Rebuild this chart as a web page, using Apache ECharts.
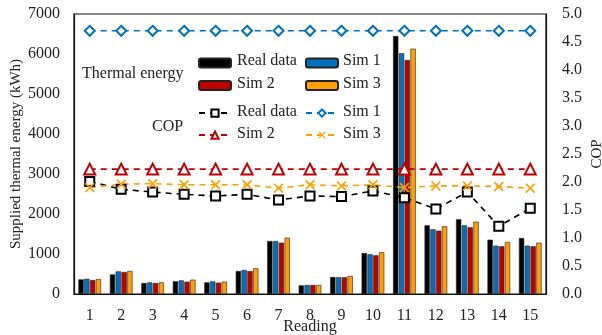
<!DOCTYPE html>
<html>
<head>
<meta charset="utf-8">
<script src="https://cdn.jsdelivr.net/npm/echarts@6/dist/echarts.min.js"></script>
<style>html,body{margin:0;padding:0;background:#fff;}#c{width:602px;height:335px;}</style>
</head>
<body>
<div id="c"></div>
<script>
const categories = ['1','2','3','4','5','6','7','8','9','10','11','12','13','14','15'];
const realEnergy = [365, 490, 275, 318, 292, 575, 1325, 215, 425, 1025, 6450, 1717, 1867, 1358, 1400];
const sim1Energy = [380, 565, 290, 340, 315, 600, 1325, 225, 418, 992, 6017, 1617, 1717, 1208, 1208];
const sim2Energy = [350, 550, 275, 308, 283, 575, 1283, 225, 418, 967, 5850, 1583, 1667, 1192, 1192];
const sim3Energy = [372, 575, 290, 358, 308, 642, 1408, 225, 450, 1042, 6133, 1692, 1808, 1300, 1283];
const realCop = [2.01, 1.87, 1.82, 1.78, 1.75, 1.78, 1.68, 1.75, 1.74, 1.84, 1.72, 1.52, 1.82, 1.21, 1.53];
const sim1Cop = [4.7, 4.7, 4.7, 4.7, 4.7, 4.7, 4.7, 4.7, 4.7, 4.7, 4.7, 4.7, 4.7, 4.7, 4.7];
const sim2Cop = [2.23, 2.23, 2.23, 2.23, 2.23, 2.23, 2.23, 2.23, 2.23, 2.23, 2.23, 2.23, 2.23, 2.23, 2.23];
const sim3Cop = [1.90, 1.96, 1.97, 1.95, 1.95, 1.95, 1.89, 1.95, 1.93, 1.95, 1.90, 1.93, 1.93, 1.92, 1.89];
const energyTicks = {min: 0, max: 7000, interval: 1000};
const copTicks = {min: 0, max: 5, interval: 0.5};

const FONT = 'Liberation Serif';
const TXT = '#222';
const C_BLACK = '#000000', C_BLUE = '#0070C0', C_RED = '#C00000', C_ORANGE = '#FFA000';
const X_PATH = 'path://M0,1.2L1.2,0L5,3.8L8.8,0L10,1.2L6.2,5L10,8.8L8.8,10L5,6.2L1.2,10L0,8.8L3.8,5Z';

function barSeries(name, data, color) {
  return {
    name: name, type: 'bar', data: data, yAxisIndex: 0,
    barGap: '10%', barCategoryGap: '28%',
    itemStyle: {color: color, borderColor: '#222', borderWidth: 0.6},
    z: 1
  };
}
function lineSeries(name, data, color, symbol, size, filled) {
  return {
    name: name, type: 'line', data: data, yAxisIndex: 1,
    symbol: symbol, symbolSize: size, showSymbol: true,
    lineStyle: {color: color, width: 1.6, type: [6, 5]},
    itemStyle: filled ? {color: color, borderWidth: 0} : {color: color, borderColor: color, borderWidth: 1.6},
    z: 5
  };
}
function legendAt(left, top, name) {
  return {
    left: left, top: top, padding: 0, orient: 'horizontal',
    itemWidth: 32, itemHeight: 9, selectedMode: false,
    data: [{name: name}],
    formatter: () => '',
    textStyle: {fontFamily: FONT, fontSize: 16, color: TXT}
  };
}
function label(left, cy, text) {
  return {type: 'text', left: left, top: cy - 9,
    style: {text: text, fontFamily: FONT, fontSize: 16, fill: TXT}};
}

const chart = echarts.init(document.getElementById('c'), null, {renderer: 'canvas'});
chart.setOption({
  animation: false,
  backgroundColor: '#fff',
  textStyle: {fontFamily: FONT},
  grid: {left: 74, right: 56, top: 14, bottom: 41, outerBoundsMode: 'none', containLabel: false,
    show: true, borderColor: '#111', borderWidth: 1.2},
  legend: [
    legendAt(198, 57.5, 'Real data'),
    legendAt(305, 57.5, 'Sim 1'),
    legendAt(198, 80, 'Sim 2'),
    legendAt(305, 80, 'Sim 3'),
    legendAt(198, 108.5, 'COP Real data'),
    legendAt(305, 108.5, 'COP Sim 1'),
    legendAt(198, 130.5, 'COP Sim 2'),
    legendAt(305, 130.5, 'COP Sim 3')
  ],
  graphic: [
    label(82, 75, 'Thermal energy'),
    label(152, 128, 'COP'),
    label(237, 62, 'Real data'),
    label(343, 62, 'Sim 1'),
    label(237, 84.5, 'Sim 2'),
    label(343, 84.5, 'Sim 3'),
    label(237, 113, 'Real data'),
    label(343, 113, 'Sim 1'),
    label(237, 135, 'Sim 2'),
    label(343, 135, 'Sim 3')
  ],
  xAxis: {
    type: 'category', data: categories,
    name: 'Reading', nameLocation: 'middle', nameGap: 25, nameMoveOverlap: false,
    nameTextStyle: {fontFamily: FONT, fontSize: 16, color: TXT},
    axisLine: {lineStyle: {color: '#111', width: 1.2}},
    axisTick: {show: false},
    axisLabel: {fontFamily: FONT, fontSize: 16, color: TXT, margin: 14}
  },
  yAxis: [
    {
      type: 'value', min: energyTicks.min, max: energyTicks.max, interval: energyTicks.interval,
      name: 'Supplied thermal energy (kWh)', nameLocation: 'middle', nameGap: 50, nameMoveOverlap: false,
      nameTextStyle: {fontFamily: FONT, fontSize: 15, color: TXT},
      axisLine: {show: true, lineStyle: {color: '#111', width: 1.2}},
      axisTick: {show: false}, splitLine: {show: false},
      axisLabel: {fontFamily: FONT, fontSize: 16, color: TXT, margin: 14, formatter: v => String(v)}
    },
    {
      type: 'value', position: 'right', min: copTicks.min, max: copTicks.max, interval: copTicks.interval,
      name: 'COP', nameLocation: 'middle', nameGap: 44, nameRotate: 90, nameMoveOverlap: false,
      nameTextStyle: {fontFamily: FONT, fontSize: 15, color: TXT},
      axisLine: {show: true, lineStyle: {color: '#111', width: 1.2}},
      axisTick: {show: false}, splitLine: {show: false},
      axisLabel: {fontFamily: FONT, fontSize: 16, color: TXT, margin: 16, formatter: v => v.toFixed(1)}
    }
  ],
  series: [
    barSeries('Real data', realEnergy, C_BLACK),
    barSeries('Sim 1', sim1Energy, C_BLUE),
    barSeries('Sim 2', sim2Energy, C_RED),
    barSeries('Sim 3', sim3Energy, C_ORANGE),
    lineSeries('COP Real data', realCop, C_BLACK, 'emptyRect', 9, false),
    lineSeries('COP Sim 1', sim1Cop, C_BLUE, 'emptyDiamond', 10, false),
    lineSeries('COP Sim 2', sim2Cop, C_RED, 'emptyTriangle', 11, false),
    lineSeries('COP Sim 3', sim3Cop, C_ORANGE, X_PATH, 10, true)
  ]
});
</script>
</body>
</html>
